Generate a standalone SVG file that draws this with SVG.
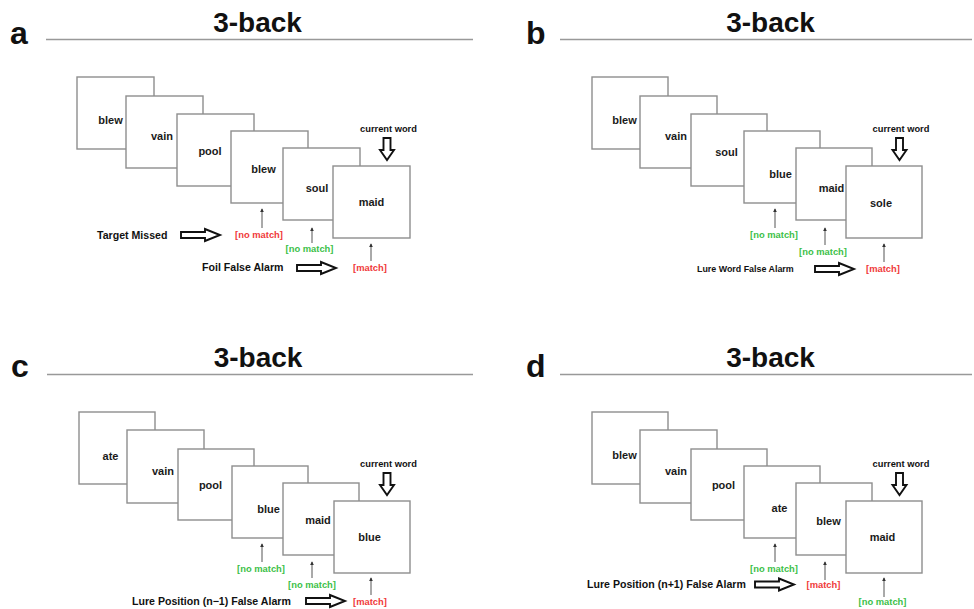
<svg xmlns="http://www.w3.org/2000/svg" width="974" height="609" viewBox="0 0 974 609">
<style>
text{font-family:"Liberation Sans",Arial,sans-serif;font-weight:bold;fill:#111}
.panel{font-size:32px}
.title{font-size:28px;text-anchor:middle}
.rule{stroke:#999;stroke-width:1.3}
.card{fill:#fff;stroke:#8e8e8e;stroke-width:1.4}
.word{font-size:11px;text-anchor:middle;fill:#1a1a1a}
.cur{font-size:9.3px;text-anchor:middle}
.lbl{font-size:10.6px}
.red{font-size:9.4px;text-anchor:middle;fill:#f03a3a}
.grn{font-size:9.4px;text-anchor:middle;fill:#3cbf48}
.tick{stroke:#555;stroke-width:1;marker-end:url(#tip)}
.hollow{fill:#fff;stroke:#111;stroke-width:1.9;stroke-linejoin:miter}
</style>
<defs>
<marker id="tip" viewBox="0 0 6 6" refX="5" refY="3" markerWidth="4" markerHeight="4" orient="auto" markerUnits="userSpaceOnUse"><path d="M0,0 L6,3 L0,6 Z" fill="#333"/></marker>
<path id="rarr" d="M0,-3 H24 V-6 L39,0 L24,6 V3 H0 Z"/>
<path id="darr" d="M-3.5,0 H3.5 V12 H7 L0,22 L-7,12 H-3.5 Z"/>
</defs>
<rect width="974" height="609" fill="#fff"/>

<!-- Panel a -->
<g id="panel-a">
<text class="panel" x="10" y="44">a</text>
<text class="title" x="257.5" y="32">3-back</text>
<line class="rule" x1="46" y1="39.5" x2="473" y2="39.5"/>
<g id="a-card1"><rect class="card" x="77" y="77" width="77" height="72"/><text class="word" x="110.5" y="124">blew</text></g>
<g id="a-card2"><rect class="card" x="126" y="96" width="77" height="72"/><text class="word" x="162" y="140">vain</text></g>
<g id="a-card3"><rect class="card" x="177" y="114" width="77" height="72"/><text class="word" x="210" y="155">pool</text></g>
<g id="a-card4"><rect class="card" x="231" y="131" width="77" height="72"/><text class="word" x="263.5" y="173">blew</text></g>
<g id="a-card5"><rect class="card" x="283" y="148" width="77" height="72"/><text class="word" x="317" y="192">soul</text></g>
<g id="a-card6"><rect class="card" x="333" y="166" width="77" height="72"/><text class="word" x="371.5" y="206">maid</text></g>
<g id="a-current"><text class="cur" x="388.5" y="131.5">current word</text><use href="#darr" class="hollow" x="387" y="138"/></g>
<g id="a-labels">
<text class="red" x="259" y="237.5">[no match]</text>
<text class="grn" x="309.5" y="251.5">[no match]</text>
<text class="red" x="370" y="270.5">[match]</text>
<text class="lbl" x="97" y="239">Target Missed</text>
<text class="lbl" x="202" y="271">Foil False Alarm</text>
</g>
</g>

<!-- Panel b -->
<g id="panel-b">
<text class="panel" x="526" y="44">b</text>
<text class="title" x="770.5" y="32">3-back</text>
<line class="rule" x1="560" y1="39.5" x2="972" y2="39.5"/>
<g id="b-card1"><rect class="card" x="592" y="77" width="76" height="72"/><text class="word" x="624.5" y="124">blew</text></g>
<g id="b-card2"><rect class="card" x="640" y="96" width="77" height="72"/><text class="word" x="676" y="140">vain</text></g>
<g id="b-card3"><rect class="card" x="691" y="114" width="76" height="72"/><text class="word" x="726.5" y="156">soul</text></g>
<g id="b-card4"><rect class="card" x="744" y="131" width="76" height="72"/><text class="word" x="780.5" y="178">blue</text></g>
<g id="b-card5"><rect class="card" x="796" y="148" width="76" height="72"/><text class="word" x="831.5" y="192">maid</text></g>
<g id="b-card6"><rect class="card" x="846" y="166" width="76" height="72"/><text class="word" x="881" y="207">sole</text></g>
<g id="b-current"><text class="cur" x="901" y="131.5">current word</text><use href="#darr" class="hollow" x="899.5" y="138"/></g>
<g id="b-labels">
<text class="grn" x="774" y="237.5">[no match]</text>
<text class="grn" x="823" y="254.5">[no match]</text>
<text class="red" x="883" y="271.5">[match]</text>
<text class="lbl" x="697" y="271.5" style="font-size:8.9px">Lure Word False Alarm</text>
</g>
</g>

<!-- Panel c -->
<g id="panel-c">
<text class="panel" x="11" y="377">c</text>
<text class="title" x="258" y="367">3-back</text>
<line class="rule" x1="47" y1="374.5" x2="473" y2="374.5"/>
<g id="c-card1"><rect class="card" x="79" y="412" width="76" height="72"/><text class="word" x="110.5" y="460">ate</text></g>
<g id="c-card2"><rect class="card" x="127" y="430" width="77" height="73"/><text class="word" x="163" y="475">vain</text></g>
<g id="c-card3"><rect class="card" x="178" y="449" width="76" height="71"/><text class="word" x="210.5" y="489">pool</text></g>
<g id="c-card4"><rect class="card" x="232" y="466" width="76" height="72"/><text class="word" x="268.5" y="513">blue</text></g>
<g id="c-card5"><rect class="card" x="283" y="483" width="76" height="72"/><text class="word" x="318" y="524">maid</text></g>
<g id="c-card6"><rect class="card" x="334" y="501" width="76" height="72"/><text class="word" x="369.5" y="541">blue</text></g>
<g id="c-current"><text class="cur" x="388.5" y="466.5">current word</text><use href="#darr" class="hollow" x="387" y="473"/></g>
<g id="c-labels">
<text class="grn" x="261" y="571.5">[no match]</text>
<text class="grn" x="312" y="587.5">[no match]</text>
<text class="red" x="370" y="604.5">[match]</text>
<text class="lbl" x="132" y="605">Lure Position (n−1) False Alarm</text>
</g>
</g>

<!-- Panel d -->
<g id="panel-d">
<text class="panel" x="526" y="377">d</text>
<text class="title" x="770.5" y="367">3-back</text>
<line class="rule" x1="560" y1="374.5" x2="972" y2="374.5"/>
<g id="d-card1"><rect class="card" x="592" y="412" width="76" height="72"/><text class="word" x="624.5" y="459">blew</text></g>
<g id="d-card2"><rect class="card" x="640" y="430" width="77" height="73"/><text class="word" x="676" y="475">vain</text></g>
<g id="d-card3"><rect class="card" x="691" y="449" width="76" height="71"/><text class="word" x="723.5" y="489">pool</text></g>
<g id="d-card4"><rect class="card" x="744" y="466" width="76" height="72"/><text class="word" x="779.5" y="512">ate</text></g>
<g id="d-card5"><rect class="card" x="796" y="483" width="76" height="72"/><text class="word" x="828.5" y="525">blew</text></g>
<g id="d-card6"><rect class="card" x="846" y="501" width="76" height="72"/><text class="word" x="882.5" y="541">maid</text></g>
<g id="d-current"><text class="cur" x="901" y="466.5">current word</text><use href="#darr" class="hollow" x="899.5" y="473"/></g>
<g id="d-labels">
<text class="grn" x="774" y="571.5">[no match]</text>
<text class="red" x="823.5" y="587.5">[match]</text>
<text class="grn" x="882.5" y="604.5">[no match]</text>
<text class="lbl" x="587" y="588">Lure Position (n+1) False Alarm</text>
</g>
</g>

<!-- Connectors -->
<g id="connectors">
<line class="tick" x1="262" y1="228" x2="262" y2="209"/>
<line class="tick" x1="312" y1="243" x2="312" y2="228"/>
<line class="tick" x1="371" y1="261" x2="371" y2="244"/>
<use href="#rarr" class="hollow" x="181" y="235"/>
<use href="#rarr" class="hollow" x="297" y="268"/>

<line class="tick" x1="775" y1="228" x2="775" y2="209"/>
<line class="tick" x1="825" y1="245" x2="825" y2="228"/>
<line class="tick" x1="884" y1="262" x2="884" y2="244"/>
<use href="#rarr" class="hollow" x="815" y="269"/>

<line class="tick" x1="262" y1="562" x2="262" y2="544"/>
<line class="tick" x1="312" y1="578" x2="312" y2="562"/>
<line class="tick" x1="371" y1="595" x2="371" y2="578"/>
<use href="#rarr" class="hollow" x="306" y="601"/>

<line class="tick" x1="775" y1="562" x2="775" y2="544"/>
<line class="tick" x1="825" y1="580" x2="825" y2="562"/>
<line class="tick" x1="884" y1="597" x2="884" y2="578"/>
<use href="#rarr" class="hollow" x="755" y="584.5"/>
</g>
</svg>
